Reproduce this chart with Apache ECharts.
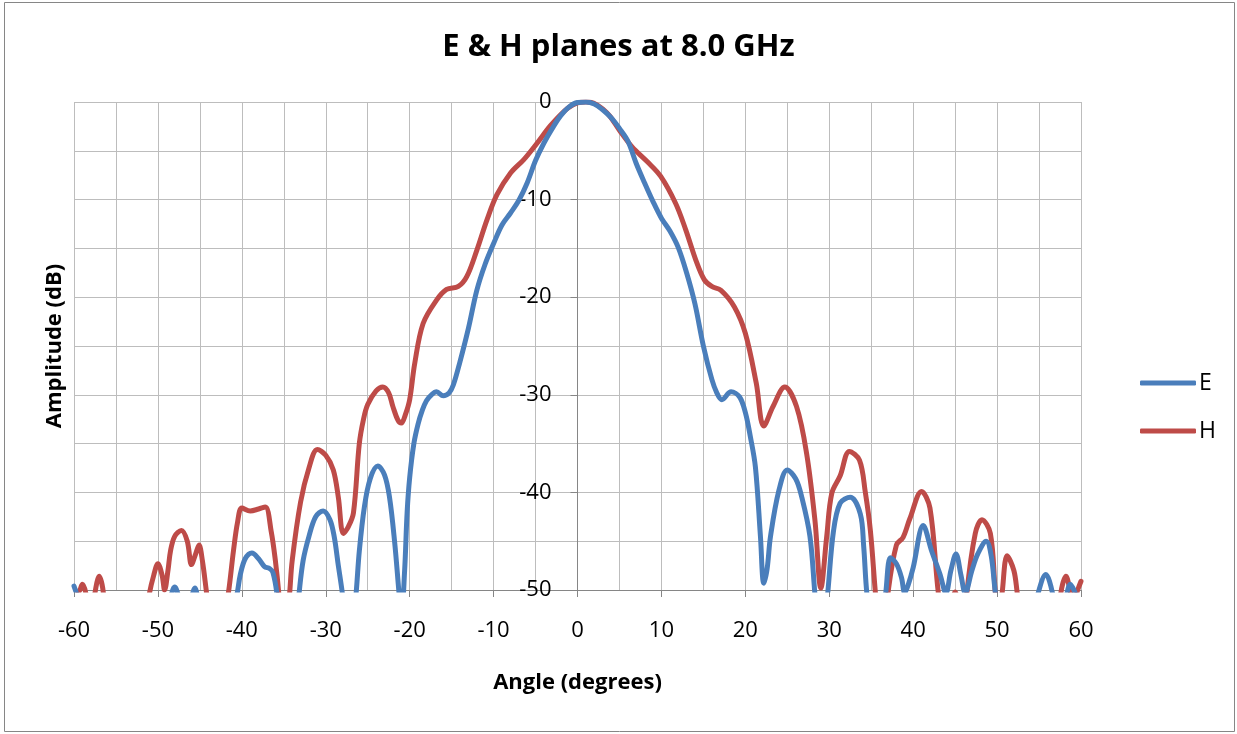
<!DOCTYPE html>
<html>
<head>
<meta charset="utf-8">
<script src="https://cdn.jsdelivr.net/npm/echarts@6/dist/echarts.min.js"></script>
<style>html,body{margin:0;padding:0;background:#fff;}#c{width:1237px;height:734px;}</style>
</head>
<body>
<div id="c"></div>
<script>
// E-plane (angle in degrees, amplitude in dB)
const eAngle = [-60,-59.5,-59,-56,-52,-48.6,-48,-47.4,-46.6,-45.6,-45,-43,-40.6,-40.2,-39.6,-38.8,-38,-37.3,-36.7,-36.3,-35.8,-35,-34,-33.2,-32.7,-32,-31.2,-30.3,-29.5,-29,-28.5,-28,-27.2,-26.4,-26,-25.4,-24.7,-23.8,-23,-22.4,-21.8,-21.3,-21,-20.6,-20.3,-20,-19.5,-19,-18.5,-18,-17.4,-16.8,-16,-15.3,-14.8,-14,-13,-12,-11,-10,-9,-8,-7,-6,-5,-4,-3,-2,-1,0,1,2,3,4,5,6,7,8,9,10,11,12,13,14,15,16,16.6,17.2,18.3,19.3,20,20.6,21.2,21.8,22.2,22.6,23,24,25,26,26.7,27.7,28.3,29,29.8,30.5,31.3,32.5,33.7,34.1,34.5,35.5,36.7,37.3,38,38.6,39,39.4,40,41.2,42.2,43.2,43.9,44.5,45.1,45.7,46.2,47,47.7,48.7,49.3,49.8,51,53,54.9,55.8,56.6,57.5,58.7,59.3,60];
const eDb = [-49.6,-51,-54,-58,-58,-51,-49.7,-51,-53,-49.8,-52,-58,-50.5,-48.5,-46.8,-46.2,-46.8,-47.6,-47.8,-48.2,-50.5,-57,-57,-50.5,-47,-44.5,-42.5,-41.9,-42.8,-44.5,-47.5,-50.5,-57,-50.5,-46,-41.5,-38.6,-37.3,-38.2,-40.5,-45,-50,-53,-48,-42,-38.5,-35,-33,-31.6,-30.6,-30.0,-29.7,-30.1,-29.8,-29,-26.6,-23.2,-19.3,-16.6,-14.5,-12.6,-11.4,-10.1,-8.3,-6.0,-4.2,-2.7,-1.4,-0.5,-0.05,0,-0.2,-0.8,-1.6,-2.7,-4.0,-6.3,-8.3,-10.2,-11.9,-13.2,-14.9,-17.5,-20.7,-25.0,-28.4,-29.8,-30.5,-29.7,-30.2,-31.8,-34.3,-37.4,-44.5,-49.3,-47.8,-44.5,-39.8,-37.7,-38.6,-40.4,-44.5,-50.5,-57,-50.5,-44,-41.1,-40.5,-42.2,-45.5,-50.5,-57,-50.5,-46.7,-47.3,-48.7,-50.3,-49.5,-47.7,-43.4,-46.0,-48.4,-50.3,-48,-46.3,-48.5,-50.3,-48,-46.3,-45,-46.5,-50.3,-57,-57,-50.3,-48.4,-50.3,-55,-49.4,-50.3,-53];

// H-plane (angle in degrees, amplitude in dB)
const hAngle = [-60,-59.3,-59,-58.6,-58,-57.5,-57,-56.5,-56,-53,-51,-50.5,-50,-49.5,-49.2,-48.8,-48.5,-48,-47.2,-46.5,-46,-45.5,-45.1,-44.7,-44.2,-43,-41.6,-41,-40.5,-40,-39,-38,-37.2,-36.5,-36,-35.6,-35,-34.3,-34,-33,-32,-31,-30,-29.1,-28.5,-27.9,-27.3,-26.7,-26,-25.5,-25,-24,-23.2,-22.5,-22,-21.4,-21,-20.5,-20,-19.4,-18.4,-16.8,-15.6,-14.2,-13.2,-12,-10.8,-9.6,-8,-6.4,-4.8,-3.2,-1.2,0,1,1.9,3,3.9,5,6.5,8.3,9.9,11.7,12.9,14.1,15.1,16,17.1,18.7,20,21.3,22.2,23.3,24.7,26.1,27.3,28.3,29,29.7,30.3,31.3,32.4,33.6,34.3,34.9,35.5,36.2,37,38,38.8,39.6,41,42,43,44,45,46,46.4,47.4,48.2,49.2,49.8,50.2,50.6,51.2,52,52.4,53.5,57,57.6,58.2,58.8,59.2,59.6,60];
const hDb = [-51,-50,-49.4,-50.3,-54,-50.3,-48.6,-50.3,-56,-60,-50.3,-48.5,-47.3,-48.5,-50,-48,-46,-44.5,-43.9,-45,-47.4,-46.3,-45.4,-47,-50.3,-58,-50.3,-46,-43,-41.6,-41.9,-41.7,-41.5,-44,-47,-50.3,-57,-50.3,-47,-41,-37.5,-35.6,-36.2,-37.7,-40.5,-44.2,-43.5,-42.1,-35,-32.5,-31,-29.6,-29.2,-29.8,-31.2,-32.6,-32.9,-32,-30.5,-26.8,-22.7,-20.3,-19.2,-18.9,-17.9,-15.2,-12.1,-9.5,-7.3,-5.9,-4.2,-2.4,-0.65,-0.1,0,-0.1,-0.7,-1.5,-2.9,-4.6,-6.1,-7.6,-10.4,-13.1,-16.2,-18.2,-18.9,-19.3,-21.0,-23.7,-28.8,-33.2,-31.2,-29.2,-31.2,-36.0,-42.9,-49.8,-44.5,-40.1,-38.3,-35.8,-36.7,-40,-43.9,-50.3,-57,-50.3,-45.4,-44.6,-42.7,-39.9,-41.6,-50.3,-56,-50.2,-56,-50.3,-44.2,-42.8,-44.2,-50.3,-53,-50.3,-46.5,-48,-50.3,-57,-55,-50.3,-48.6,-50.3,-51,-50,-49.1];

const xTicks = { min: -60, max: 60, step: 10 };
const yTicks = { min: -50, max: 0, step: 10 };

const eData = eAngle.map((a, i) => [a, eDb[i]]);
const hData = hAngle.map((a, i) => [a, hDb[i]]);

const chart = echarts.init(document.getElementById('c'), null, { renderer: 'canvas' });
const FONT = '"Open Sans", "Noto Sans", sans-serif';
const gridColor = '#bdbdbd';
const axisColor = '#868686';

const GRID_LEFT = 74, GRID_RIGHT = 156;
const plotWidth = 1237 - GRID_LEFT - GRID_RIGHT;
// place the y axis at angle 0 (Excel "vertical axis crosses at 0")
const yAxisOffset = -plotWidth * (0 - xTicks.min) / (xTicks.max - xTicks.min);

chart.setOption({
  animation: false,
  backgroundColor: '#ffffff',
  title: {
    text: 'E & H planes at 8.0 GHz',
    left: 'center',
    top: 27,
    textStyle: { fontFamily: FONT, fontWeight: 'bold', fontSize: 31, color: '#000' }
  },
  graphic: [{
    type: 'rect', shape: { x: 4.5, y: 2.5, width: 1230, height: 729 },
    style: { fill: 'none', stroke: axisColor, lineWidth: 1 }, silent: true, z: -1
  }],
  legend: {
    orient: 'vertical',
    left: 1135,
    top: 366,
    itemWidth: 56,
    itemHeight: 5,
    itemGap: 24,
    icon: 'roundRect',
    textStyle: { fontFamily: FONT, fontSize: 23, color: '#000', lineHeight: 24, padding: [0, 0, 0, -2] },
    data: ['E', 'H']
  },
  grid: { left: GRID_LEFT, right: GRID_RIGHT, top: 102, bottom: 144, containLabel: false, outerBoundsMode: 'none' },
  xAxis: {
    type: 'value',
    min: xTicks.min, max: xTicks.max, interval: xTicks.step,
    name: 'Angle (degrees)',
    nameLocation: 'middle',
    nameGap: 82,
    nameTextStyle: { fontFamily: FONT, fontWeight: 'bold', fontSize: 22, color: '#000' },
    axisLine: { onZero: false, lineStyle: { color: axisColor, width: 1 } },
    axisTick: { show: true, length: 7, lineStyle: { color: axisColor } },
    axisLabel: { fontFamily: FONT, fontSize: 22, color: '#000', margin: 30 },
    splitLine: { show: true, lineStyle: { color: gridColor, width: 1 } },
    minorTick: { show: false, splitNumber: 2 },
    minorSplitLine: { show: true, lineStyle: { color: gridColor, width: 1 } }
  },
  yAxis: {
    type: 'value',
    position: 'left',
    offset: yAxisOffset,
    min: yTicks.min, max: yTicks.max, interval: yTicks.step,
    name: 'Amplitude (dB)',
    nameLocation: 'middle',
    nameGap: 512,
    nameTextStyle: { fontFamily: FONT, fontWeight: 'bold', fontSize: 22, color: '#000' },
    axisLine: { show: true, onZero: false, lineStyle: { color: axisColor, width: 1 } },
    axisTick: { show: true, length: 7, lineStyle: { color: axisColor } },
    axisLabel: { fontFamily: FONT, fontSize: 22, color: '#000', margin: 26 },
    splitLine: { show: true, lineStyle: { color: gridColor, width: 1 } },
    minorTick: { show: false, splitNumber: 2 },
    minorSplitLine: { show: true, lineStyle: { color: gridColor, width: 1 } }
  },
  series: [
    {
      name: 'E', type: 'line', data: eData, smooth: 0.35, symbol: 'none', clip: true,
      lineStyle: { color: '#4a7ebb', width: 5, cap: 'round', join: 'round' },
      itemStyle: { color: '#4a7ebb' }, z: 3
    },
    {
      name: 'H', type: 'line', data: hData, smooth: 0.35, symbol: 'none', clip: true,
      lineStyle: { color: '#be4b48', width: 5, cap: 'round', join: 'round' },
      itemStyle: { color: '#be4b48' }, z: 2
    }
  ]
});
</script>
</body>
</html>
